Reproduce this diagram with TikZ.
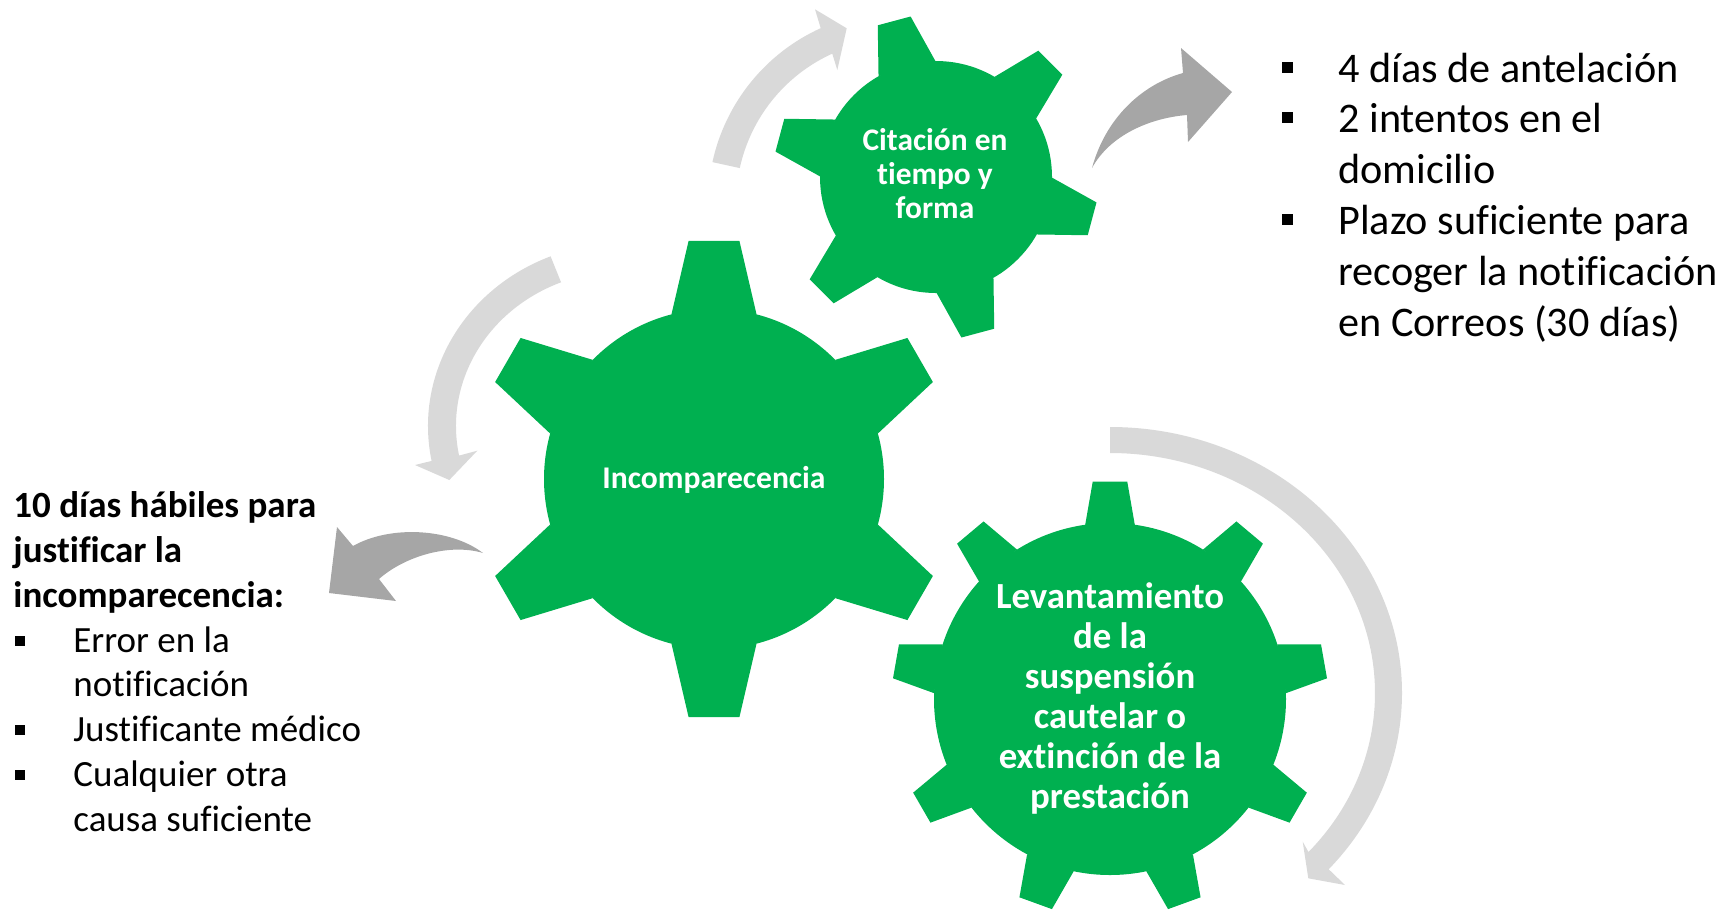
\documentclass[tikz,border=0pt]{standalone}
\usepackage{fontspec}
\setmainfont{Carlito}[Ligatures={NoCommon,NoContextual}]
\begin{document}
\begin{tikzpicture}[x=0.5pt,y=0.5pt,yscale=-1,xscale=1,
  gearfill/.style={fill={rgb, 255:red, 0; green, 176; blue, 80 }},
  lightarrow/.style={fill={rgb, 255:red, 217; green, 217; blue, 217 }},
  darkarrow/.style={fill={rgb, 255:red, 166; green, 166; blue, 166 }},
  geartext/.style={text=white, align=center, inner sep=0pt},
  listtext/.style={anchor=base west, inner sep=0pt, font=\fontsize{21.1}{25.5}\selectfont},
  lefttext/.style={anchor=base west, inner sep=0pt, font=\fontsize{18.5}{22.5}\selectfont},
  headtext/.style={anchor=base west, inner sep=0pt, font=\bfseries\fontsize{18.5}{22.5}\selectfont},
  bulletbig/.style={fill=black, inner sep=0pt, minimum size=5.5pt},
  bulletsmall/.style={fill=black, inner sep=0pt, minimum size=4.8pt}]
\useasboundingbox (0,0) rectangle (1725,912);

%Shape: Circular Arrow [around Citación]
\begin{scope}[shift={(900,203)}]
\fill[lightarrow] (-167.7:192) arc[start angle=-167.7, end angle=-114.4, radius=192]
  -- (-85,-193.7) -- (-53.3,-174.7) -- (-62.7,-133)
  -- (-114.4:164) arc[start angle=-114.4, end angle=-167.7, radius=164] -- cycle;
\end{scope}
%Shape: Circular Arrow [around Incomparecencia]
\begin{scope}[shift={(624,426)}]
\fill[lightarrow] (-112:196 and 183) arc[start angle=-112, end angle=-191, x radius=196, y radius=183]
  -- (-209,39) -- (-174.7,54) -- (-146.7,24.7)
  -- (-191:168 and 155) arc[start angle=-191, end angle=-112, x radius=168, y radius=155] -- cycle;
\end{scope}
%Shape: Circular Arrow [around Levantamiento]
\begin{scope}[shift={(1110,693)}]
\fill[lightarrow] (-90:292 and 266) arc[start angle=-90, end angle=41.5, x radius=292, y radius=266]
  -- (235,192) -- (198.3,185.3) -- (192.7,148.7)
  -- (41.5:265 and 240) arc[start angle=41.5, end angle=-90, x radius=265, y radius=240] -- cycle;
\end{scope}

%Curve Lines [curved arrow to the right]
\fill[darkarrow] (1092,168) .. controls (1105,120) and (1140,85) .. (1183,73) -- (1181,48) -- (1232,92) -- (1188,142) -- (1187,115) .. controls (1150,118) and (1110,135) .. (1092,168) -- cycle;
%Curve Lines [curved arrow to the left]
\fill[darkarrow] (483,553) .. controls (450,528) and (390,525) .. (353,546) -- (337,527) -- (329,593) -- (396,601) -- (379,579) .. controls (405,556) and (450,543) .. (483,553) -- cycle;

%Shape: Gear [small]
\fill[gearfill] (936,177) circle (116);
\foreach \a in {-105,-45,15,75,135,195}
  \fill[gearfill,shift={(936,177)}] (\a-14.7:116) -- (\a-6:162.5) -- (\a+6:162.5) -- (\a+14.7:116) -- cycle;
%Shape: Gear [big]
\fill[gearfill] (714,479) circle (170);
\foreach \a in {-90,-30,30,90,150,210}
  \fill[gearfill,shift={(714,479)}] (\a-14.5:170) -- (\a-6.1:239.4) -- (\a+6.1:239.4) -- (\a+14.5:170) -- cycle;
%Shape: Gear [nine teeth]
\fill[gearfill] (1110,699) circle (176);
\foreach \a in {-90,-50,-10,30,70,110,150,190,230}
  \fill[gearfill,shift={(1110,699)}] (\a-8.1:176) -- (\a-4.55:218) -- (\a+4.55:218) -- (\a+8.1:176) -- cycle;

% Text Node
\node[geartext, font=\bfseries\fontsize{15.7}{17}\selectfont] (cit) at (935,174) {Citación en\\tiempo y\\forma};
% Text Node
\node[geartext, font=\bfseries\fontsize{15.8}{17}\selectfont] (inc) at (714,480) {Incomparecencia};
% Text Node
\node[geartext, font=\bfseries\fontsize{18.4}{20}\selectfont] (lev) at (1110,698) {Levantamiento\\de la\\suspensión\\cautelar o\\extinción de la\\prestación};

% Text Node
\node[listtext] (item1) at (1338,82) {4 días de antelación};
\node[listtext] (item2) at (1338,132) {2 intentos en el};
\node[listtext] (item2b) at (1338,183) {domicilio};
\node[listtext] (item3) at (1338,234) {Plazo suficiente para};
\node[listtext] (item3b) at (1338,285) {recoger la notificación};
\node[listtext] (item3c) at (1338,336) {en Correos (30 días)};
\node[bulletbig] (bul1) at (1287,67.5) {};
\node[bulletbig] (bul2) at (1287,117.5) {};
\node[bulletbig] (bul3) at (1287,219.5) {};

% Text Node
\node[headtext] (just1) at (13,517) {10 días hábiles para};
\node[headtext] (just2) at (13,562) {justificar la};
\node[headtext] (just3) at (13,607) {incomparecencia:};
\node[lefttext] (cause1) at (73,652) {Error en la};
\node[lefttext] (cause1b) at (73,696) {notificación};
\node[lefttext] (cause2) at (73,741) {Justificante médico};
\node[lefttext] (cause3) at (73,786) {Cualquier otra};
\node[lefttext] (cause3b) at (73,831) {causa suficiente};
\node[bulletsmall] (dot1) at (20,641) {};
\node[bulletsmall] (dot2) at (20,730) {};
\node[bulletsmall] (dot3) at (20,775) {};

\end{tikzpicture}
\end{document}
